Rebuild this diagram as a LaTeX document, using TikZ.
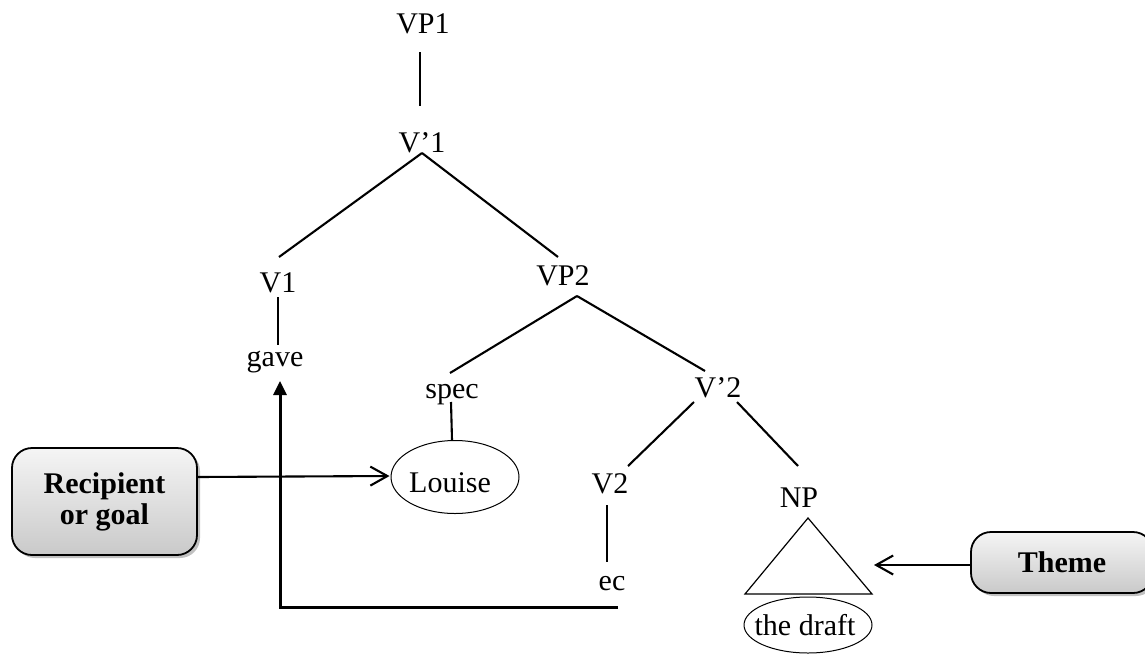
\documentclass[tikz,border=0pt]{standalone}
\usepackage{fontspec}
\setmainfont{Liberation Serif}
\usetikzlibrary{arrows.meta,shapes.geometric,shadows,calc}
\begin{document}
\begin{tikzpicture}[x=1pt,y=-1pt,
  lbl/.style={anchor=base,inner sep=0pt,font=\fontsize{30}{32}\selectfont},
  branch/.style={line width=2.1pt},
  ring/.style={draw,ellipse,line width=1pt,inner sep=0pt},
  rolebox/.style={draw,line width=1.8pt,rounded corners=20pt,top color=gray!8,bottom color=gray!42,
    drop shadow={shadow xshift=3pt,shadow yshift=-3pt,fill=gray!70,opacity=0.7},
    font=\fontsize{30}{32}\selectfont\bfseries,align=center,inner sep=0pt},
  openarrow/.style={line width=2.1pt,-{Straight Barb[length=17pt,width=19pt,line width=2.1pt]}},
  movearrow/.style={line width=3pt,-{Triangle[length=14pt,width=13pt]}}]
\useasboundingbox (0,0) rectangle (1145,653);
% tree labels
\node[lbl] (vp1) at (423,33) {VP1};
\node[lbl] (vb1) at (422,152) {V’1};
\node[lbl] (v1) at (278,292) {V1};
\node[lbl] (gave) at (275,366) {gave};
\node[lbl] (vp2) at (563,285) {VP2};
\node[lbl] (spec) at (452,398) {spec};
\node[lbl] (vb2) at (718,397) {V’2};
\node[lbl] (v2) at (610,493) {V2};
\node[lbl] (np) at (799,507) {NP};
\node[lbl] (ec) at (612,590) {ec};
% ellipses
\node[ring,minimum width=128pt,minimum height=73pt] (louise) at (455,477) {};
\node[lbl] (louiset) at (450,492) {Louise};
\node[ring,minimum width=128pt,minimum height=56pt] (draft) at (808,625) {};
\node[lbl] (draftt) at (805,635) {the draft};
% branches
\draw[branch] ($(vp1.base)+(-3,19)$) -- ($(vb1.base)+(-2,-46)$);
\draw[branch] ($(vb1.base)+(0,1)$) -- ($(v1.base)+(1,-35)$);
\draw[branch] ($(vb1.base)+(0,1)$) -- ($(vp2.base)+(-5,-28)$);
\draw[branch] ($(v1.base)+(0,5)$) -- ($(gave.base)+(3,-21)$);
\draw[branch] ($(vp2.base)+(14,11)$) -- ($(spec.base)+(-2,-25)$);
\draw[branch] ($(vp2.base)+(14,11)$) -- ($(vb2.base)+(-13,-26)$);
\draw[branch] ($(spec.base)+(-1,4)$) -- (spec.base |- louise.north);
\draw[branch] ($(vb2.base)+(-24,5)$) -- ($(v2.base)+(18,-27)$);
\draw[branch] ($(vb2.base)+(19,5)$) -- ($(np.base)+(-1,-41)$);
\draw[branch] ($(v2.base)+(-3,12)$) -- ($(ec.base)+(-5,-28)$);
% triangle
\coordinate (apex) at ($(np.base)+(9,11)$);
\coordinate (bl) at (745,594);
\coordinate (br) at (872,594);
\draw[line width=1.2pt,line join=miter] (apex) -- (bl) -- (br) -- cycle;
% role boxes
\node[rolebox,minimum width=185pt,minimum height=107pt] (recip) at (104.5,501.5) {Recipient\\[-1pt]or goal};
\node[rolebox,minimum width=182pt,minimum height=61pt] (theme) at (1062,562.5) {Theme};
% arrows
\draw[openarrow] (recip.east |- louise.west) -- ($(louise.west)+(-1,-1)$);
\coordinate (themetip) at (874,565);
\draw[openarrow] (theme.west |- themetip) -- (themetip);
\coordinate (gavetip) at ($(gave.base)+(5,15)$);
\draw[movearrow] ($(ec.base)+(6,17)$) -| (gavetip);
\end{tikzpicture}
\end{document}
